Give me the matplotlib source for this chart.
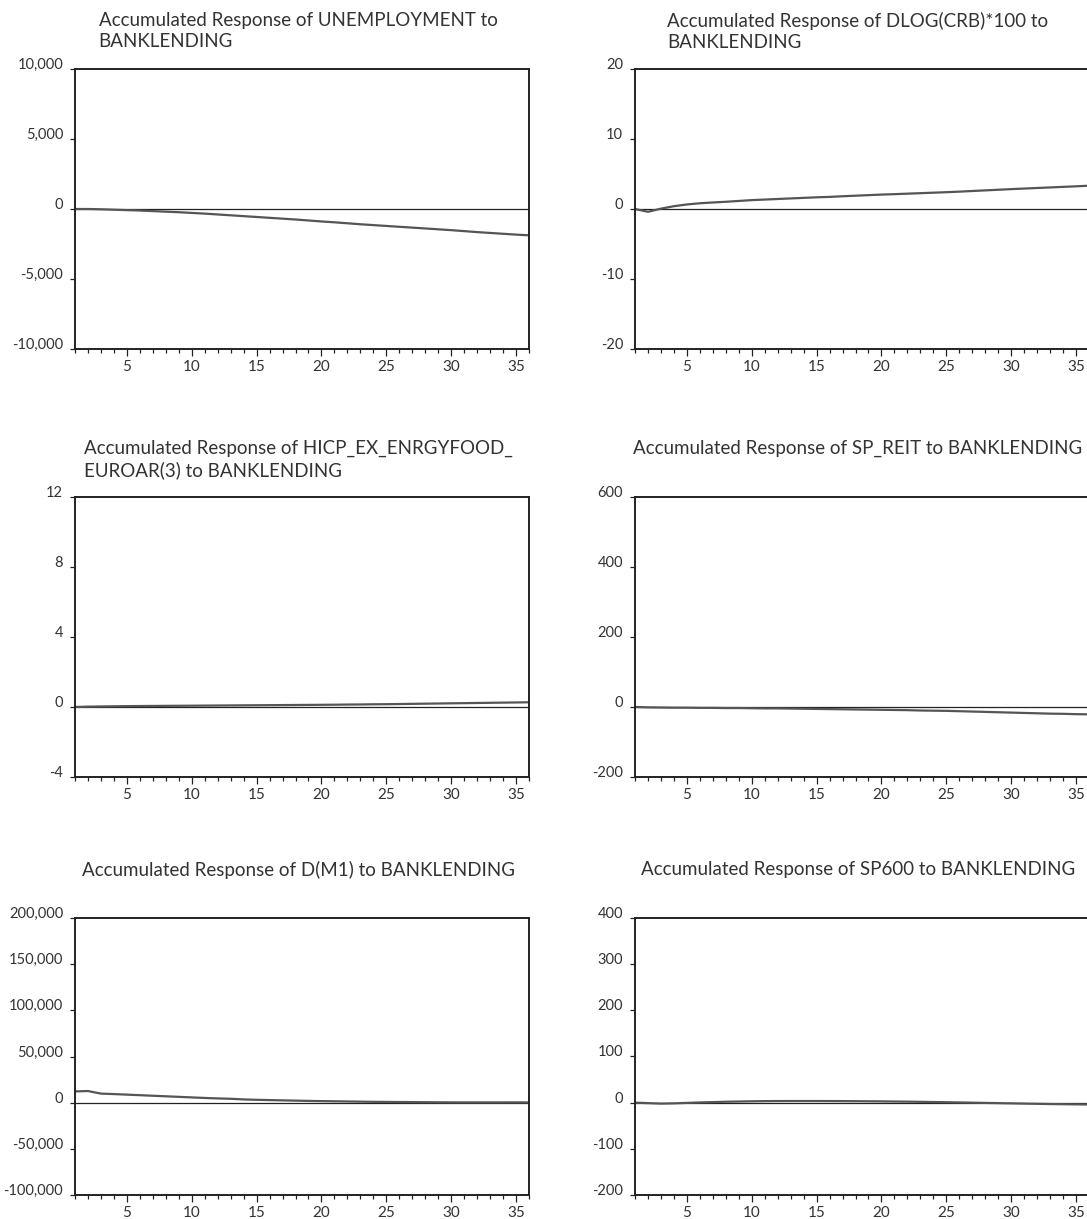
import matplotlib
matplotlib.use("Agg")
import matplotlib.pyplot as plt
from matplotlib.ticker import FuncFormatter, MultipleLocator
from matplotlib.transforms import offset_copy

plt.rcParams['font.family'] = ['Lato', 'DejaVu Sans']
plt.rcParams['axes.unicode_minus'] = False

# horizon (periods)
periods = list(range(1, 37))

# accumulated responses
unemployment = [0, 0, -20, -50, -80, -110, -150, -190, -230, -280, -330, -390,
                -450, -510, -570, -630, -690, -750, -820, -890, -950, -1020,
                -1090, -1150, -1210, -1270, -1330, -1390, -1450, -1510, -1580,
                -1650, -1710, -1770, -1830, -1880]
crb = [0, -0.4, 0.05, 0.4, 0.65, 0.82, 0.93, 1.03, 1.15, 1.27, 1.35, 1.43,
       1.51, 1.59, 1.67, 1.73, 1.82, 1.9, 1.98, 2.06, 2.12, 2.19, 2.26, 2.33,
       2.4, 2.48, 2.57, 2.66, 2.75, 2.84, 2.92, 3.0, 3.08, 3.16, 3.24, 3.33]
hicp = [0.0, 0.02, 0.03, 0.04, 0.05, 0.055, 0.06, 0.065, 0.07, 0.075, 0.08,
        0.085, 0.09, 0.095, 0.10, 0.105, 0.11, 0.115, 0.12, 0.125, 0.13, 0.14,
        0.145, 0.155, 0.16, 0.17, 0.18, 0.19, 0.20, 0.21, 0.22, 0.23, 0.24,
        0.25, 0.26, 0.27]
sp_reit = [0, -1, -1.5, -2, -2, -2.5, -2.5, -3, -3, -3.5, -4, -4, -4.5, -5,
           -5.5, -6, -6.5, -7, -7.5, -8, -8.5, -9, -10, -10.5, -11, -12, -13,
           -14, -15, -16, -17, -18, -19, -19.5, -20.5, -21]
m1 = [12200, 12600, 9800, 9300, 8700, 8100, 7500, 6900, 6300, 5700, 5100,
      4600, 4200, 3500, 3100, 2800, 2500, 2200, 1900, 1700, 1500, 1300, 1100,
      900, 800, 700, 600, 500, 400, 350, 300, 300, 300, 300, 350, 200]
sp600 = [0, -1, -2, -1.5, -0.5, 0.5, 1.2, 2, 2.5, 3, 3.3, 3.5, 3.6, 3.6, 3.6,
         3.5, 3.4, 3.2, 3, 2.8, 2.5, 2.2, 1.8, 1.4, 1, 0.5, 0, -0.5, -1, -1.5,
         -2, -2.5, -3, -3.3, -3.7, -4]

series = [unemployment, crb, hicp, sp_reit, m1, sp600]
titles = [
    "Accumulated Response of UNEMPLOYMENT to\nBANKLENDING",
    "Accumulated Response of DLOG(CRB)*100 to\nBANKLENDING",
    "Accumulated Response of HICP_EX_ENRGYFOOD_\nEUROAR(3) to BANKLENDING",
    "Accumulated Response of SP_REIT to BANKLENDING",
    "Accumulated Response of D(M1) to BANKLENDING",
    "Accumulated Response of SP600 to BANKLENDING",
]
y_limits = [(-10000, 10000), (-20, 20), (-4, 12), (-200, 600),
            (-100000, 200000), (-200, 400)]
y_steps = [5000, 10, 4, 200, 50000, 100]

W, H = 1087, 1219
fig = plt.figure(figsize=(W / 100, H / 100), dpi=100)

col_left = [75, 635]
row_top = [69, 497, 918]
ax_w, ax_h = 454, 280

text_color = '#333333'
fmt = FuncFormatter(lambda v, p: f"{int(v):,}")

for i, (y, title, ylim, step) in enumerate(zip(series, titles, y_limits, y_steps)):
    r, c = divmod(i, 2)
    left = col_left[c] / W
    h = ax_h if r < 2 else 277
    bottom = 1 - (row_top[r] + h) / H
    ax = fig.add_axes([left, bottom, ax_w / W, h / H])

    ax.axhline(0, color='#222222', lw=0.9, zorder=1)
    ax.plot(periods, y, color='#555555', lw=1.6, zorder=2)

    ax.set_xlim(1, 36)
    ax.set_ylim(*ylim)
    ax.xaxis.set_major_locator(MultipleLocator(5))
    ax.xaxis.set_minor_locator(MultipleLocator(1))
    ax.yaxis.set_major_locator(MultipleLocator(step))
    ax.yaxis.set_major_formatter(fmt)

    ax.tick_params(axis='x', which='major', direction='out', length=5,
                   width=0.9, pad=3, labelsize=11, colors='#222222',
                   labelcolor=text_color)
    ax.tick_params(axis='x', which='minor', direction='out', length=3,
                   width=0.9, colors='#222222')
    ax.tick_params(axis='y', which='major', direction='out', length=3.5,
                   width=0.9, pad=5, labelsize=10.5, colors='#222222',
                   labelcolor=text_color)
    for lbl in ax.get_yticklabels():
        lbl.set_va('baseline')

    for sp in ax.spines.values():
        sp.set_linewidth(1.4)
        sp.set_color('#222222')

    tr = offset_copy(ax.transAxes, fig=fig, x=-4, y=57, units='dots')
    ax.text(0.5, 1.0, title, transform=tr, ha='center', va='top',
            multialignment='left', fontsize=13.5, color=text_color,
            linespacing=1.3)

fig.savefig('out.png', dpi=100)
